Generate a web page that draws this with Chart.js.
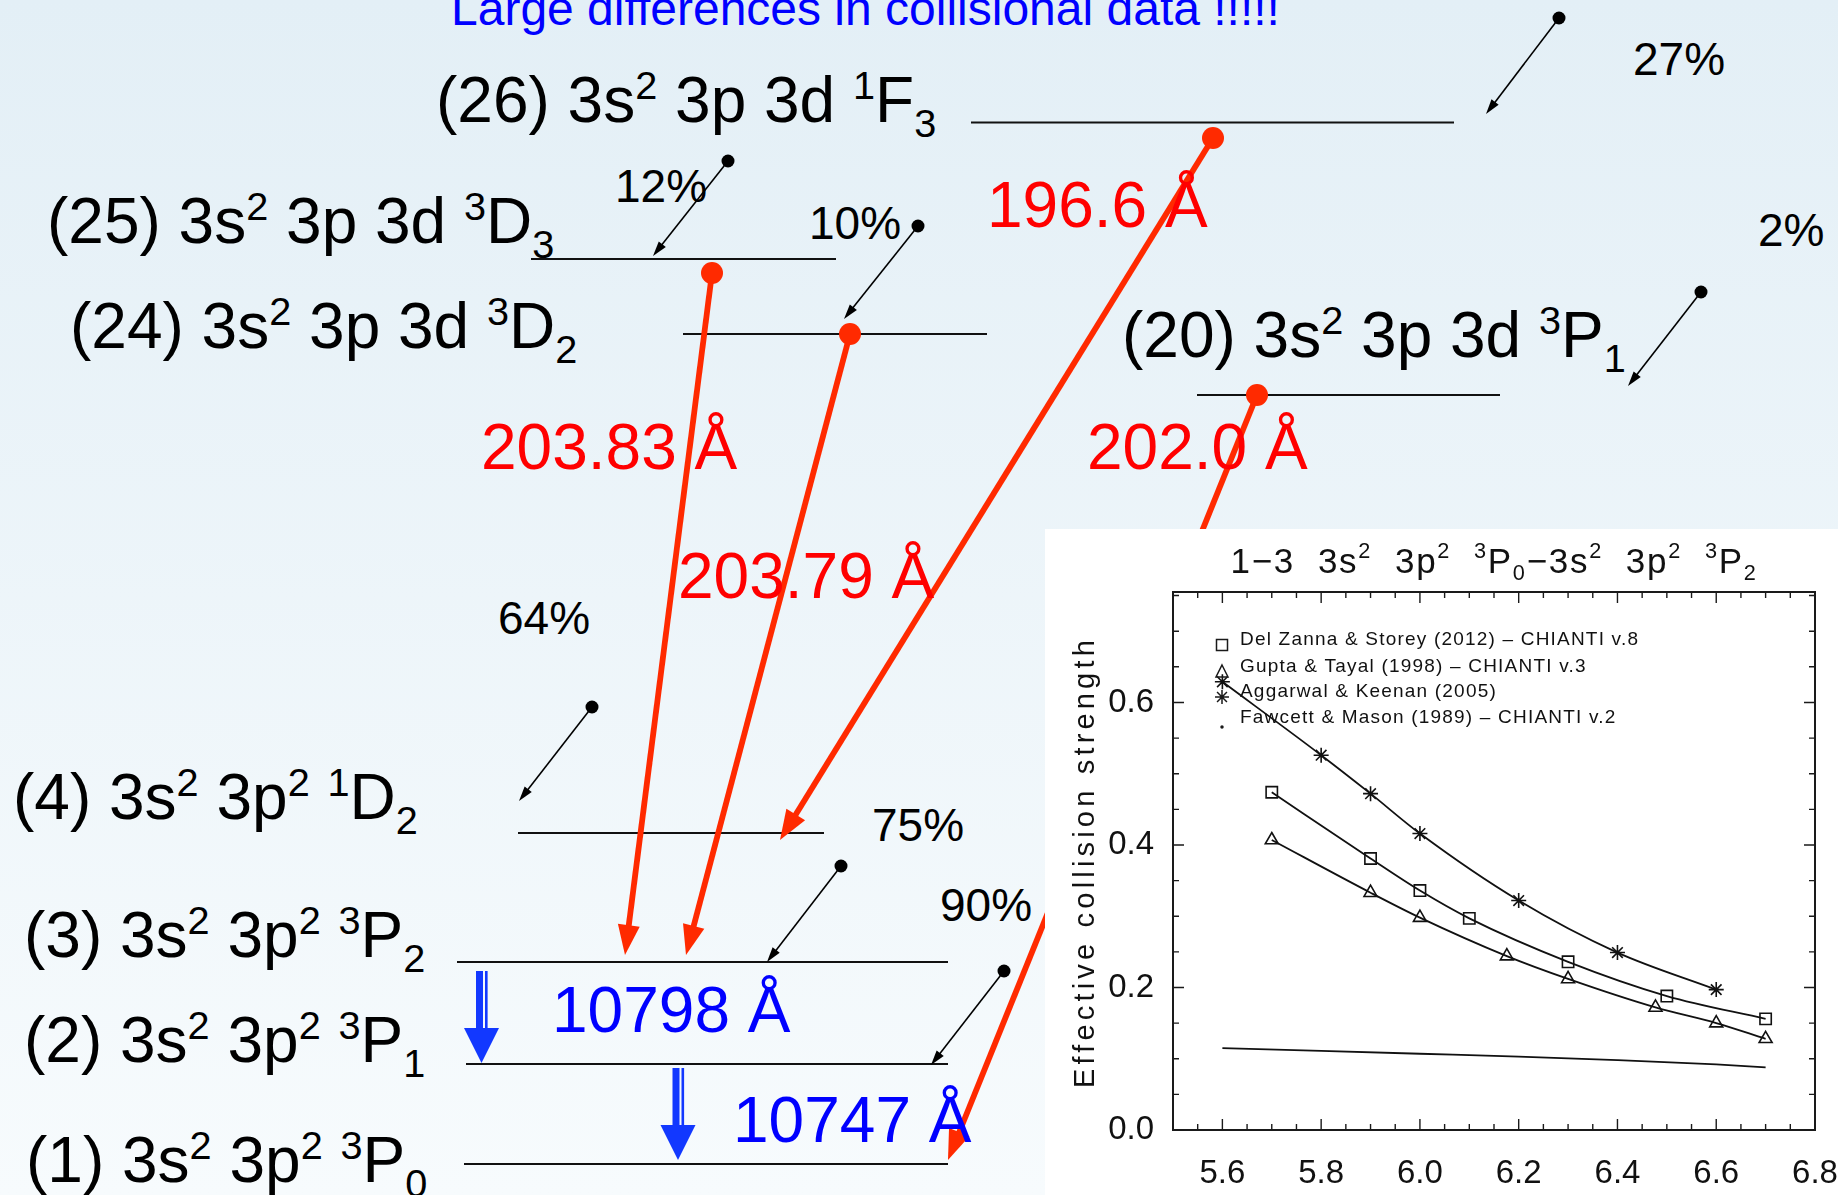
<!DOCTYPE html>
<html>
<head>
<meta charset="utf-8">
<title>Collisional data - Fe XIII</title>
<script src="https://cdn.jsdelivr.net/npm/chart.js@4.4.1/dist/chart.umd.min.js"></script>
<style>
    html, body { margin: 0; padding: 0; }
    body {
        width: 1838px; height: 1195px; overflow: hidden; position: relative;
        background: linear-gradient(180deg, #e3eff6 0%, #f7fbfd 100%);
        font-family: "Liberation Sans", Arial, sans-serif;
    }
    #diagram { position: absolute; left: 0; top: 0; }
    #diagram text { white-space: pre; }
    #inset { position: absolute; left: 1045px; top: 529px; width: 793px; height: 666px; background: #fff; }
</style>
</head>
<body>
<svg id="diagram" width="1838" height="1195"></svg>
<div id="inset"><canvas id="myChart" width="793" height="666"></canvas></div>
<script>
// values (log T vs effective collision strength)
var logT_DZ = [5.7, 5.9, 6.0, 6.1, 6.3, 6.5, 6.7];
var ups_DZ = [0.474, 0.381, 0.336, 0.297, 0.236, 0.188, 0.156];
var logT_GT = [5.7, 5.9, 6.0, 6.176, 6.3, 6.477, 6.6, 6.7];
var ups_GT = [0.407, 0.333, 0.298, 0.244, 0.212, 0.172, 0.150, 0.128];
var logT_AK = [5.6, 5.8, 5.9, 6.0, 6.2, 6.4, 6.6];
var ups_AK = [0.629, 0.526, 0.472, 0.416, 0.322, 0.249, 0.197];
var logT_FM = [5.6, 5.8, 6.0, 6.2, 6.4, 6.6, 6.7];
var ups_FM = [0.115, 0.111, 0.107, 0.103, 0.098, 0.092, 0.088];
var seriesNames = [
    "Del Zanna & Storey (2012) \u2013 CHIANTI v.8",
    "Gupta & Tayal (1998) \u2013 CHIANTI v.3",
    "Aggarwal & Keenan (2005)",
    "Fawcett & Mason (1989) \u2013 CHIANTI v.2"
];
var xTickLabels = [5.6, 5.8, 6.0, 6.2, 6.4, 6.6, 6.8];
var yTickLabels = [0.0, 0.2, 0.4, 0.6];
var chartTitle = "1\u22123  3s^2  3p^2  ^3P_0\u22123s^2  3p^2  ^3P_2";
var yTitle = "Effective collision strength";

// "^x" = superscript char, "_x" = subscript char
function richParts(str) {
    var parts = [], i = 0;
    while (i < str.length) {
        var c = str[i];
        if (c === "^" || c === "_") {
            parts.push({ t: str[i + 1], k: c });
            i += 2;
        } else {
            var j = i;
            while (j < str.length && str[j] !== "^" && str[j] !== "_") j++;
            parts.push({ t: str.slice(i, j), k: "" });
            i = j;
        }
    }
    return parts;
}

// ---------- level diagram (svg) ----------
var svg = document.getElementById("diagram");
var NS = "http://www.w3.org/2000/svg";
function add(tag, attrs, parent) {
    var e = document.createElementNS(NS, tag);
    for (var k in attrs) e.setAttribute(k, attrs[k]);
    (parent || svg).appendChild(e);
    return e;
}
function svgText(x, y, str, size, fill) {
    var t = add("text", { x: x, y: y, "font-size": size, fill: fill, "font-family": "Liberation Sans, Arial, sans-serif" });
    var shift = 0;
    richParts(str).forEach(function(p) {
        var target = p.k === "^" ? -0.36 * size : (p.k === "_" ? 0.24 * size : 0);
        var ts = add("tspan", { dy: target - shift }, t);
        if (p.k) ts.setAttribute("font-size", 0.62 * size);
        ts.textContent = p.t;
        shift = target;
    });
}
function arrow(x1, y1, x2, y2, o) {
    var dx = x2 - x1, dy = y2 - y1, len = Math.hypot(dx, dy);
    var ux = dx / len, uy = dy / len;
    var bx = x2 - ux * o.head, by = y2 - uy * o.head;
    add("line", { x1: x1, y1: y1, x2: bx + ux * 2, y2: by + uy * 2, stroke: o.color, "stroke-width": o.w });
    add("polygon", {
        points: [x2, y2, bx - uy * o.hw, by + ux * o.hw, bx + uy * o.hw, by - ux * o.hw].join(" "),
        fill: o.color
    });
    add("circle", { cx: x1, cy: y1, r: o.r, fill: o.color });
}
function blueArrow(xc, y1, y2) {
    var col = "#1238ff";
    add("rect", { x: xc - 5.5, y: y1, width: 7, height: y2 - y1 - 30, fill: col });
    add("rect", { x: xc + 3.5, y: y1, width: 2.6, height: y2 - y1 - 30, fill: col });
    add("polygon", { points: [xc - 17.5, y2 - 35, xc + 17.5, y2 - 35, xc, y2].join(" "), fill: col });
}

svgText(451, 25, "Large differences in collisional data !!!!!", 48, "#0000ff");

var levels = [
    // label, label x, label baseline, line x1, line x2, line y
    ["(26) 3s^2 3p 3d ^1F_3", 436, 122, 971, 1454, 122.5],
    ["(25) 3s^2 3p 3d ^3D_3", 47, 243, 531, 836, 259],
    ["(24) 3s^2 3p 3d ^3D_2", 70, 348, 683, 987, 334],
    ["(20) 3s^2 3p 3d ^3P_1", 1122, 357, 1197, 1500, 395],
    ["(4) 3s^2 3p^2 ^1D_2", 13, 819, 518, 824, 833],
    ["(3) 3s^2 3p^2 ^3P_2", 24, 957, 457, 948, 962],
    ["(2) 3s^2 3p^2 ^3P_1", 24, 1062, 466, 948, 1064],
    ["(1) 3s^2 3p^2 ^3P_0", 26, 1182, 464, 948, 1164]
];
levels.forEach(function(l) {
    svgText(l[1], l[2], l[0], 64, "#000");
    add("line", { x1: l[3], y1: l[5], x2: l[4], y2: l[5], stroke: "#111", "stroke-width": 2.2 });
});

var pcts = [
    ["27%", 1633, 75, 1559, 18, 1486, 114],
    ["12%", 615, 202, 728, 161, 653, 256],
    ["10%", 809, 239, 918, 226, 844, 319],
    ["2%", 1758, 246, 1701, 292, 1628, 386],
    ["64%", 498, 634, 592, 707, 519, 801],
    ["75%", 872, 841, 841, 866, 767, 962],
    ["90%", 940, 921, 1004, 971, 931, 1065]
];
pcts.forEach(function(p) {
    svgText(p[1], p[2], p[0], 46, "#000");
    arrow(p[3], p[4], p[5], p[6], { color: "#000", w: 1.6, head: 15, hw: 4.5, r: 6.5 });
});

var red = "#ff2a00";
var redArrows = [
    [1213, 138, 780, 840],
    [712, 273, 625, 955],
    [850, 334, 686, 955],
    [1257, 395, 948, 1160]
];
redArrows.forEach(function(a) {
    arrow(a[0], a[1], a[2], a[3], { color: red, w: 5.8, head: 30, hw: 11, r: 11 });
});
[["196.6 \u00c5", 987, 227], ["203.83 \u00c5", 481, 469], ["203.79 \u00c5", 678, 598], ["202.0 \u00c5", 1087, 469]]
    .forEach(function(t) { svgText(t[1], t[2], t[0], 64, "#ff0000"); });

blueArrow(481.5, 971, 1063);
blueArrow(678, 1068, 1160);
svgText(552, 1032, "10798 \u00c5", 64, "#0000ff");
svgText(733, 1142, "10747 \u00c5", 64, "#0000ff");

// ---------- inset chart ----------
var FONT = "Liberation Sans, Arial, sans-serif";

function pts(xs, ys) {
    return xs.map(function(v, i) { return { x: v, y: ys[i] }; });
}

function drawRich(ctx, str, cx, base, size, target) {
    var parts = richParts(str);
    var w = 0, n = 0;
    ctx.letterSpacing = "0px";
    parts.forEach(function(p) {
        ctx.font = (p.k ? 0.62 * size : size) + "px " + FONT;
        p.w = ctx.measureText(p.t).width;
        w += p.w;
        n += p.t.length;
    });
    var ls = Math.max(0, (target - w) / n);
    var x = cx - (w + ls * n) / 2;
    ctx.letterSpacing = ls + "px";
    ctx.textAlign = "left";
    ctx.textBaseline = "alphabetic";
    parts.forEach(function(p) {
        ctx.font = (p.k ? 0.62 * size : size) + "px " + FONT;
        var dy = p.k === "^" ? -0.42 * size : (p.k === "_" ? 0.22 * size : 0);
        ctx.fillText(p.t, x, base + dy);
        x += p.w + ls * p.t.length;
    });
    ctx.letterSpacing = "0px";
}

function drawSymbol(ctx, i, x, y) {
    ctx.beginPath();
    if (i === 0) {
        ctx.rect(x - 5.5, y - 5.5, 11, 11);
    } else if (i === 1) {
        ctx.moveTo(x, y - 7); ctx.lineTo(x + 6, y + 5); ctx.lineTo(x - 6, y + 5); ctx.closePath();
    } else if (i === 2) {
        for (var a = 0; a < 4; a++) {
            var ang = a * Math.PI / 4;
            ctx.moveTo(x - 7 * Math.sin(ang), y - 7 * Math.cos(ang));
            ctx.lineTo(x + 7 * Math.sin(ang), y + 7 * Math.cos(ang));
        }
    } else {
        ctx.arc(x, y, 1, 0, Math.PI * 2);
        ctx.fill();
    }
    ctx.stroke();
}

var frame = {
    id: "frame",
    afterDraw: function(chart) {
        var ctx = chart.ctx, a = chart.chartArea, x = chart.scales.x, y = chart.scales.y;
        ctx.save();
        ctx.strokeStyle = "#1a1a1a";
        ctx.fillStyle = "#1a1a1a";
        ctx.lineWidth = 2;
        ctx.strokeRect(a.left, a.top, a.right - a.left, a.bottom - a.top);

        // inward minor / major ticks on all four sides
        ctx.lineWidth = 1.4;
        ctx.beginPath();
        for (var i = 0; i <= 26; i++) {
            var v = 5.5 + i * 0.05;
            var r = (v - 5.6) / 0.2;
            var L = Math.abs(r - Math.round(r)) < 1e-6 ? 11 : 6;
            var px = x.getPixelForValue(v);
            ctx.moveTo(px, a.bottom); ctx.lineTo(px, a.bottom - L);
            ctx.moveTo(px, a.top); ctx.lineTo(px, a.top + L);
        }
        for (var j = 0; j <= 15; j++) {
            var w = j * 0.05;
            var rr = w / 0.2;
            var Ly = Math.abs(rr - Math.round(rr)) < 1e-6 ? 11 : 6;
            var py = y.getPixelForValue(w);
            ctx.moveTo(a.left, py); ctx.lineTo(a.left + Ly, py);
            ctx.moveTo(a.right, py); ctx.lineTo(a.right - Ly, py);
        }
        ctx.stroke();

        // title
        ctx.fillStyle = "#111";
        drawRich(ctx, chartTitle, 449, 43.5, 35, 527);

        // y axis title
        ctx.save();
        ctx.translate(49, 333);
        ctx.rotate(-Math.PI / 2);
        ctx.font = "29px " + FONT;
        ctx.letterSpacing = "0px";
        var tw = ctx.measureText(yTitle).width;
        ctx.letterSpacing = Math.max(0, (452 - tw) / yTitle.length) + "px";
        ctx.textAlign = "center";
        ctx.textBaseline = "alphabetic";
        ctx.fillText(yTitle, 0, 0);
        ctx.restore();

        // legend
        var rowText = [111, 138, 163, 189];
        var rowSym = [116, 143, 168, 198];
        ctx.font = "19px " + FONT;
        ctx.letterSpacing = "1.2px";
        ctx.textAlign = "left";
        ctx.textBaseline = "middle";
        ctx.lineWidth = 1.5;
        seriesNames.forEach(function(name, k) {
            drawSymbol(ctx, k, 177, rowSym[k]);
            ctx.fillText(name, 195, rowText[k]);
        });
        ctx.restore();
    }
};

var common = {
    borderColor: "#111",
    borderWidth: 1.8,
    backgroundColor: "rgba(0,0,0,0)",
    pointBorderColor: "#111",
    pointBackgroundColor: "rgba(255,255,255,0)",
    pointBorderWidth: 1.6,
    cubicInterpolationMode: "monotone",
    fill: false
};

var ctx = document.getElementById("myChart");
var chart = new Chart(ctx, {
    type: "line",
    data: {
        datasets: [
            Object.assign({ label: seriesNames[0], data: pts(logT_DZ, ups_DZ), pointStyle: "rect", pointRadius: 8 }, common),
            Object.assign({ label: seriesNames[1], data: pts(logT_GT, ups_GT), pointStyle: "triangle", pointRadius: 7.5 }, common),
            Object.assign({ label: seriesNames[2], data: pts(logT_AK, ups_AK), pointStyle: "star", pointRadius: 7.5 }, common),
            Object.assign({ label: seriesNames[3], data: pts(logT_FM, ups_FM), pointRadius: 0 }, common)
        ]
    },
    options: {
        responsive: false,
        animation: false,
        layout: { padding: { top: 63, right: 23, left: 0, bottom: 0 } },
        plugins: {
            legend: { display: false },
            title: { display: false },
            tooltip: { enabled: false }
        },
        scales: {
            x: {
                type: "linear",
                min: 5.5,
                max: 6.8,
                grid: { display: false },
                border: { display: false },
                afterBuildTicks: function(s) { s.ticks = xTickLabels.map(function(v) { return { value: v }; }); },
                afterFit: function(s) { s.height = 65; s.paddingLeft = 0; s.paddingRight = 0; },
                ticks: {
                    autoSkip: false,
                    maxRotation: 0,
                    padding: 16,
                    color: "#111",
                    font: { size: 33, family: FONT },
                    callback: function(v) { return Number(v).toFixed(1); }
                }
            },
            y: {
                min: 0,
                max: 0.755,
                grid: { display: false },
                border: { display: false },
                afterBuildTicks: function(s) { s.ticks = yTickLabels.map(function(v) { return { value: v }; }); },
                afterFit: function(s) { s.width = 128; s.paddingTop = 0; s.paddingBottom = 0; },
                ticks: {
                    autoSkip: false,
                    padding: 11,
                    color: "#111",
                    font: { size: 33, family: FONT },
                    callback: function(v) { return Number(v).toFixed(1); }
                }
            }
        }
    },
    plugins: [frame]
});
</script>
</body>
</html>
